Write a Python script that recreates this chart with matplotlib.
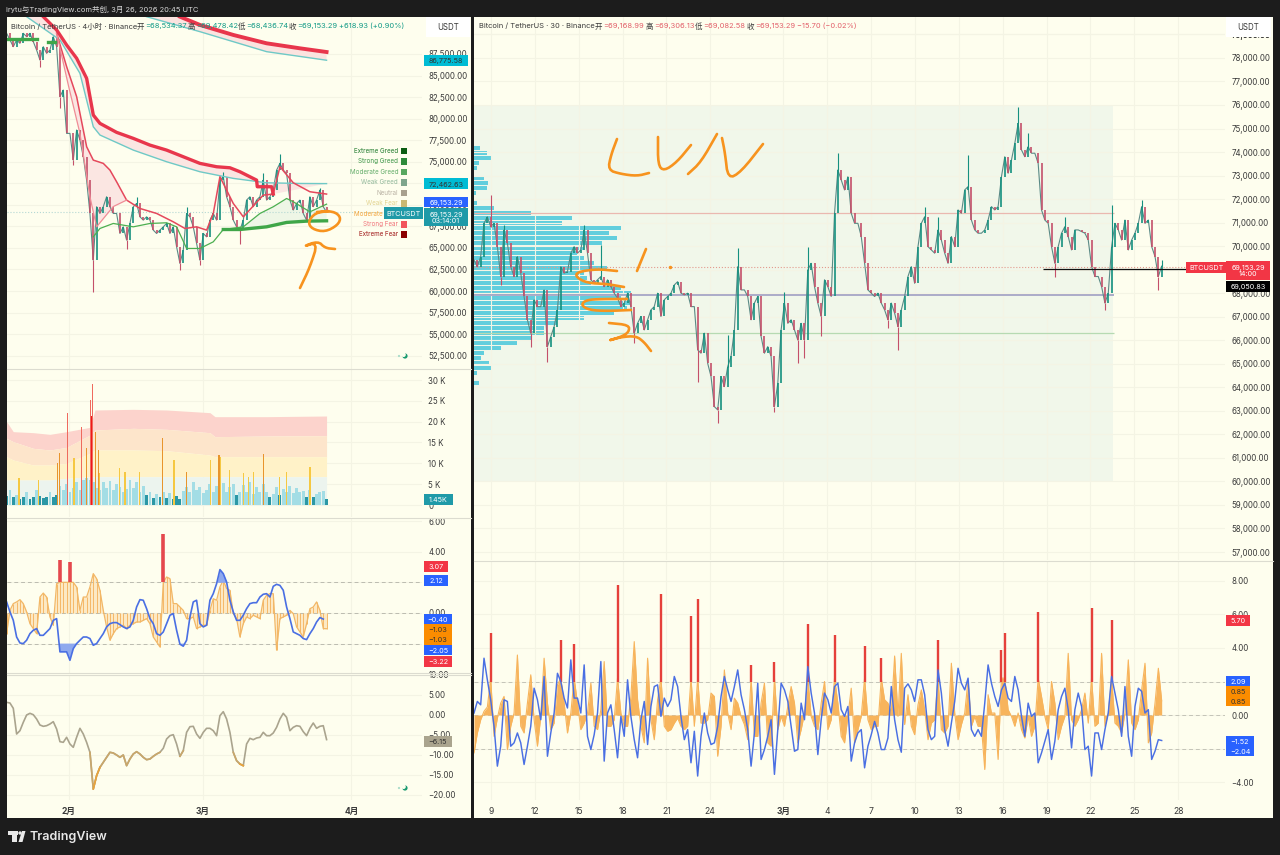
# -*- coding: utf-8 -*-
import numpy as np
import matplotlib
matplotlib.use("Agg")
from matplotlib import pyplot as plt
from matplotlib.patches import Rectangle, Polygon, Circle
from matplotlib.ticker import FuncFormatter

W, H = 1280, 855
plt.rcParams['font.family'] = ['Inter', 'Noto Sans CJK SC', 'DejaVu Sans']

# x values are days since 1 Feb
LEFT_T0, LEFT_STEP = -13.03, 0.6964
RIGHT_T0, RIGHT_STEP = 6.84, 0.2283

# left: 4h price
left_close = [89900, 89130, 88350, 89130, 88740, 89900, 89510, 89900, 88930, 87960, 86800, 88350, 87580, 87960, 89510, 88350,
    82550, 83320, 78290, 78290, 75190, 78680, 77520, 75580, 72870, 69000, 63580, 69780, 69000, 69780, 70940, 69780, 69000, 69000,
    66680, 67450, 65910, 67840, 69780, 70160, 68610, 68230, 68610, 68230, 67070, 66680, 67070, 67450, 67840, 66680, 67450, 65130,
    63200, 64740, 69000, 68610, 67450, 65520, 63580, 66680, 66290, 68230, 69000, 68230, 72870, 73260, 70940, 69780, 68230, 67450,
    67070, 68230, 70550, 70940, 69780, 70550, 70940, 72870, 70550, 70940, 71710, 74030, 74810, 74030, 73640, 70550, 69390, 70160,
    70550, 69000, 68230, 70940, 69780, 70550, 71710, 69780, 69153]
left_wick_idx = [10, 16, 20, 26, 36, 39, 52, 54, 58, 65, 70, 77, 82, 94]
left_wick_val = [86030, 81190, 74610, 59900, 64900, 70940, 62400, 69780, 63000, 73840, 65500, 73640, 75900, 71900]

slow_red_days = [23.19, 27.36, 34.33, 41.29, 48.25, 53.82]
slow_red = [91830, 90870, 89710, 88740, 88160, 87730]
slow_cyan_days = [16.2, 27.36, 41.29, 53.82]
slow_cyan = [91830, 90090, 87770, 86776]
mid_red_days = [-5.37, -2.58, -0.49, 1.6, 3.69, 5.08, 6.47, 9.95, 13.44, 16.92, 20.4, 23.88, 27.36, 30.85, 33.63, 35.72, 39.2, 39.34, 42.34, 42.69]
mid_red = [91830, 90290, 88540, 87000, 84670, 80420, 79450, 78410, 77710, 76930, 76350, 75580, 74810, 74420, 74300, 73840, 72870, 72100, 72100, 71250]
mid_cyan_days = [-8.85, -1.88, 2.29, 5.08, 6.47, 13.44, 20.4, 27.36, 34.33, 41.29, 48.25, 53.82]
mid_cyan = [91830, 89130, 85260, 79060, 78100, 76350, 75000, 73840, 73070, 72560, 72480, 72463]
thin_red_days = [-2.58, -0.49, 1.6, 3.69, 5.08, 7.17, 8.56, 9.95, 12.04, 14.83, 18.32, 21.79, 24.23, 26.67, 28.76, 30.15, 31.54, 34.33, 36.42, 40.59, 42.69, 44.08, 46.86, 50.34, 53.82]
thin_red = [89900, 86030, 82550, 76740, 75190, 74810, 74030, 72680, 70550, 69580, 69000, 68030, 67260, 67450, 67070, 69000, 73260, 70160, 68610, 71130, 71250, 74420, 72560, 71520, 71250]
fast_pink_days = [-2.58, -0.14, 2.29, 4.38, 5.77, 9.25, 12.04]
fast_pink = [89900, 83900, 78290, 70940, 67450, 69800, 70550]
thin_green_days = [5.08, 6.47, 9.25, 13.44, 16.92, 20.4, 22.49, 24.58, 27.36, 30.15, 32.24, 36.42, 39.9, 42.69, 45.47, 46.86, 50.34, 53.82]
thin_green = [66290, 67260, 67840, 67450, 67840, 67920, 67450, 64940, 64940, 65710, 67140, 67450, 69000, 69780, 70740, 70360, 69190, 70080]
thick_green_days = [32.24, 35.72, 41.29, 45.47, 49.65, 53.82]
thick_green = [67140, 67140, 67450, 67960, 68110, 68150]
top_green_a_days = [-13.03, -6.76]
top_green_a = [89240, 89240]
top_green_b_days = [-4.3, -2.93]
top_green_b = [88900, 88900]

# left: volume (K)
band_days = [-13.03, -11.64, -7.46, -3.98, -0.49, 4.38, 5.43, 13.44, 20.4, 29.45, 30.5, 41.29, 53.82]
band_red_top = [20.0, 17.6, 17.36, 16.96, 17.6, 18.64, 22.8, 22.96, 22.8, 22.16, 21.2, 21.2, 21.36]
band_orange_top = [16.0, 15.2, 13.6, 13.2, 13.84, 16.8, 18.0, 18.4, 18.16, 17.36, 16.4, 16.56, 16.64]
band_yellow_top = [11.6, 10.8, 9.6, 9.6, 10.0, 12.4, 13.2, 13.2, 13.04, 12.0, 11.6, 11.6, 11.6]
band_pale_top = [6.0, 6.0, 6.0, 6.0, 6.4, 6.8, 6.8, 6.8, 6.8, 6.8, 6.8, 6.8, 6.8]
volume = [2.2, 3.5, 1.8, 2.5, 1.5, 2.0, 3.0, 1.4, 2.0, 3.5, 2.2, 1.6, 1.8, 3.0, 2.0, 2.4,
    4.5, 3.5, 5.0, 3.0, 4.0, 5.5, 3.5, 6.0, 6.5, 6.0, 5.5, 4.0,
    3.5, 5.5, 4.0, 5.8, 3.5, 5.0, 4.2, 3.0, 3.8, 6.0, 4.0, 5.5, 3.0, 4.6, 2.4, 3.2, 1.6, 2.6, 1.8, 3.0, 1.6, 2.8, 1.5, 2.2, 1.4,
    3.4, 4.2, 3.0, 5.5, 3.5, 4.2, 2.8, 3.6, 5.0, 3.0, 4.6, 3.4, 5.2, 3.0, 4.2, 5.0, 2.4, 3.0, 4.8, 3.0, 5.4, 2.6, 4.4, 3.0, 5.0,
    3.0, 2.0, 2.6, 4.4, 2.4, 3.8, 3.0, 4.6, 2.8, 4.0, 3.0, 3.4, 2.0, 3.6, 1.8, 2.6, 3.2, 3.4, 1.45]
yellow_spike_days = [-10.45, -6.41, 1.04, 6.33, 10.51, 11.69, 14.69, 21.93, 29.59, 31.68, 33.49, 36.41, 37.46, 38.5, 43.94, 45.47, 50.34]
yellow_spikes = [6.4, 6.0, 11.2, 7.6, 8.8, 8.0, 8.0, 10.8, 10.8, 11.6, 8.4, 7.6, 6.8, 8.0, 6.8, 8.0, 9.2]
orange_spike_days = [-2.44, -2.02, 3.69, 5.57, 6.12, 19.56, 24.58, 31.33, 40.59]
orange_spikes = [10.0, 12.4, 13.6, 17.4, 13.2, 16.0, 8.0, 12.0, 12.2]
red_spike_days = [-0.28, 2.57, 4.52, 4.94, 4.73]
red_spikes = [22.0, 18.6, 25.2, 29.0, 21.4]

# left: oscillator
left_hist = [-1.35, 0.17, 0.61, 0.72, 0.87, 0.61, 0.07, -0.7, -1.02, -1.35, 1.04, 1.3, 1.04, -0.26, -0.8, 1.91, 3.43, 2.0, 2.0, 3.33,
    2.0, 1.7, 0.17, 1.04, 1.04, 1.7, 2.57, 2.24, 1.48, 0.17, -0.91, -1.78, -1.35, -1.02, -0.91, -0.8, -1.02, -0.8, -0.7, -0.59, -0.59,
    -0.48, -0.37, -0.7, -1.57, -1.89, -2.22, 5.17, 2.35, 2.24, 0.61, 0.61, 0.39, 0.17, -0.37, -0.37, -0.26, -1.02, -0.91, -0.8, -0.8,
    0.17, 0.93, 0.83, 1.7, 2.13, 1.59, 1.48, -0.04, -0.37, -1.57, -0.7, -0.26, -0.37, -0.15, -0.26, -0.37, 0.83, 1.15, 1.26, 1.26,
    -2.43, -0.37, -0.26, -0.15, 0.17, -0.04, -0.91, -1.24, -1.57, -0.7, 0.28, 0.39, 0.72, 0.17, -1.02, -1.03]
left_blue = [0.72, 0.07, -0.48, -1.57, -1.96, -2.0, -1.78, -1.35, -1.13, -1.02, -1.46, -1.46, -1.24, -1.02, -0.48, -0.37, -2.54, -2.54,
    -2.54, -3.09, -2.33, -2.0, -1.78, -1.57, -1.57, -1.67, -2.11, -2.0, -1.67, -1.35, -0.91, -0.7, -0.63, -0.63, -0.76, -0.91, -1.02,
    -0.91, -0.48, 0.39, 0.87, 0.83, 0.28, -0.37, -0.7, -1.35, -1.46, -1.24, -0.7, -0.15, -0.04, -1.13, -2.04, -2.17, -1.78, -0.26, 0.72,
    0.83, -0.7, -0.91, -0.8, 0.83, 1.26, 1.91, 2.83, 2.57, 2.02, 0.83, 0.07, -0.48, -0.48, -0.15, 0.28, 0.61, 0.67, 0.67, 1.04, 1.22,
    1.26, 1.04, 1.74, 1.87, 1.8, 1.48, 0.39, -0.37, -1.24, -1.35, -1.46, -1.67, -1.74, -1.35, -1.02, -0.59, -0.3, -0.4]

# left: bottom line
left_line = [3.17, 3.0, 1.67, -4.75, -3.92, -1.83, 0, 0.42, 0.08, -1, -2.5, -2.83, -2.67, -2.25, -1.67, -3.5, -6.67, -6.83, -5.58, -7.25,
    -8.08, -5.58, -3.33, -4.75, -6.83, -9.33, -18.5, -15.17, -13.08, -11.83, -10.58, -9.33, -9.5, -10, -10.58, -10, -12.67, -11, -9.75,
    -9.17, -9.75, -10.58, -11.17, -11, -10.33, -9.75, -9.33, -8.33, -6, -5.17, -4.92, -7.25, -10.33, -8.92, -4.33, -2.92, -2.83, -4.75,
    -5.83, -4.33, -3.33, -3.33, -3.92, -5.17, -0.17, 0.83, -1, -4.33, -9.33, -11.42, -12.25, -12.67, -7.25, -5.83, -6.17, -5.75, -5.58,
    -4.33, -5.17, -5.17, -4.5, -3.08, -1, 0.42, -0.58, -3.92, -3.08, -2.67, -2.83, -4.17, -5.17, -3.33, -2, -3.33, -2.83, -2.67, -6.15]

# right: 30m price
right_close = [69410, 69130, 69560, 70970, 71250, 70830, 70970, 69980, 68710, 70690, 70120, 69130, 68710, 69560, 68850, 67860, 66870, 66300,
    67720, 67430, 67430, 68140, 65730, 66150, 66580, 67290, 69130, 68850, 68920, 69700, 69980, 69700, 69840, 70690, 69700, 68570, 68420,
    68570, 68710, 68280, 68570, 68280, 68000, 67790, 67430, 67580, 68000, 67430, 66300, 66720, 67010, 66440, 66870, 67290, 67430, 68000,
    67010, 67720, 67860, 68000, 68350, 68490, 68000, 67930, 68000, 67430, 67430, 65590, 65450, 66300, 65020, 64460, 63180, 63040, 64460,
    64030, 64880, 65310, 66440, 69130, 68140, 68140, 67860, 66870, 67580, 67860, 66160, 65450, 65730, 65310, 63180, 64170, 66440, 67580,
    66720, 66870, 66440, 66010, 66720, 66010, 68990, 69270, 68280, 67580, 67010, 68570, 68280, 67860, 71400, 73240, 72810, 72390, 72950,
    71400, 70970, 70970, 70410, 69270, 68140, 68000, 67860,
    68000, 67580, 67290, 66870, 67580, 67150, 66580, 67290, 67860, 68710, 69130, 68420, 69980, 70970, 71250, 69980, 69840, 69700, 70690,
    70260, 69700, 69270, 70410, 69980, 71540, 71400, 72390, 72530, 71110, 70690, 70550, 70550, 70690, 71110, 71680, 71540, 71680, 72950,
    73800, 73100, 73660, 74370, 75220, 74090, 73800, 74230, 73950, 73950, 73520, 71540, 71110, 70970, 69980, 69270, 69980, 70550, 70830,
    70410, 69840, 70690, 70690, 70620, 70550, 70260, 69130, 68710, 68710, 68280, 67580, 68000, 69980, 70970, 70690, 70260, 71110, 69840,
    70260, 70550, 70970, 71680, 70970, 71110, 69980, 69560, 68710, 69153]
right_wick_idx = [5, 8, 9, 17, 22, 33, 38, 48, 67, 73, 76, 79, 90, 93, 97, 99, 100, 104, 109,
    124, 127, 135, 139, 148, 163, 166, 177, 174, 189, 191, 200, 205, 206]
right_wick_val = [72180, 68350, 70900, 65730, 65090, 70900, 70050, 65870, 64240, 62470, 66230, 69910, 62970, 68070, 65020, 65240, 69980, 66160, 73950,
    66510, 65590, 71680, 71250, 73880, 75930, 74800, 71250, 68710, 67290, 71750, 71960, 68140, 69410]

profile_top, profile_step = 74159, 212.4
profile_volume = [6, 13, 18, 5, 3, 0, 10, 14, 13, 2, 0, 3, 20, 57, 98, 88, 147, 135, 143, 128, 110, 103, 110, 120, 133, 110, 113, 117,
    147, 157, 147, 157, 153, 140, 110, 83, 70, 70, 57, 43, 27, 10, 7, 15, 17, 3, 0, 5]

# right: oscillator
right_hist = [-2.26, -1.07, -0.28, 0.22, 0.48, 4.87, -1.27, -0.18, 0.71, 1.11, -2.06, -0.67, 0.12, 3.58, -0.67, -1.07, 0.71, 2.4, -0.28, -1.86,
    -0.08, 3.39, 0.71, -0.87, -0.48, 1.8, 4.47, 0.71, -1.07, 0.12, 4.24, 0.71, -0.87, -0.48, 0.12, 1.9, -0.67, -0.87, 0.32, 3.19, -0.67,
    -0.67, -0.28, 7.74, 0.12, -0.67, -0.67, 1.11, 4.38, 0.91, -0.67, -1.66, 3.39, -0.28, -1.47, 0.91, 7.25, -0.67, -0.97, -0.87, -0.48,
    -0.18, -0.67, -0.87, -0.67, 5.9, -0.67, 6.95, -0.48, -0.48, -0.28, 1.31, 1.11, -2.46, -0.67, 2.69, 0.12, -0.87, 1.01, 0.71, -0.08,
    -0.57, -1.47, 2.99, -1.27, -1.27, 0.71, 1.9, -1.66, -1.86, 3.19, -0.87, -0.08, -0.67, 0.51, 1.7, 0.71, -1.66, -0.87, 0.12, 5.46,
    -0.08, -0.67, -0.87, 0.71, 2.0, -0.87, -0.28, 4.77, 0.71, -1.27, -1.66, -0.08, 1.6, -1.66, -0.87, -0.08, 4.12, -0.28, -0.87, -0.67,
    -0.67, 3.39, 0.91, 0.71, 0.12, 3.52, -0.08, 3.68, -0.57, 1.21, -0.67, -1.17, 0.61, 1.5, 0.32, -1.47, -0.48, -0.28, 4.47, -0.87, -1.07,
    -0.67, 3.09, 0.12, -1.47, -0.57, 0.12, 2.1, -0.67, -0.08, -0.67, -0.67, -3.25, 1.21, 0.12, 0.12, -2.65, 3.88, 4.87, 0.32, -0.08, -0.67,
    0.12, -0.87, -1.37, -0.08, -1.27, -0.67, 6.16, 1.11, -0.08, -0.87, 2.0, 0.71, -1.47, -0.67, -0.08, 3.68, -0.28, -0.67, -0.28, 0.32,
    1.31, -0.48, 6.36, -0.67, -0.48, 3.68, -0.67, 0.12, 5.66, -0.48, -0.67, -1.07, 0.12, 3.29, -0.48, -0.87, -0.28, 1.5, 3.09, -1.66, -1.07,
    0.71, 2.79, 0.85]
right_hist_red_idx = [5, 26, 30, 43, 56, 65, 67, 83, 90, 100, 108, 117, 122, 139, 158, 159, 169, 185, 191]
right_blue = [0.12, 0.81, 0.61, 3.39, 2.1, 0.91, -0.67, -3.05, -1.86, 0.91, 0.81, -1.86, -1.66, -1.07, -1.66, -2.95, -1.86, -0.67, 1.6, 0.91,
    -0.28, 2.3, -2.46, -1.07, 0.12, 2.49, 2.0, 1.01, 0.42, 3.29, 1.01, 1.01, 0.12, 2.99, -1.27, -2.06, -1.17, 0.12, 3.19, -2.75, 0.12, 0.61,
    -0.87, -2.55, -0.08, -1.27, 2.1, -0.08, -1.47, -2.55, -0.28, 0.81, -1.76, 0.51, 1.7, 1.8, -0.08, 1.01, 0.51, 0.91, 2.3, 1.7, -0.08,
    -1.47, -0.87, -2.85, -0.97, -3.64, -1.27, 0.12, -1.07, -1.76, -1.66, -0.67, 1.11, 2.3, 1.5, 0.81, 1.7, 2.69, 1.21, 0.32, -0.87, -3.05,
    -1.07, 1.9, -2.65, -2.06, -1.27, -0.28, -3.54, -0.87, 1.9, 1.5, 0.81, -0.67, -2.16, -2.06, 0.71, -0.28, 2.89, 1.31, 0.12, -2.36, -0.28,
    1.31, 0.91, 0.12, 1.7, 1.9, 0.32, -0.08, 0.51, -2.75, -1.66, -1.07, -0.87, -3.15, -1.86, -1.17, -0.38,
    -1.07, -2.06, -2.06, -1.37, 1.7, -0.28, -1.47, -2.22, 1.6, 1.86, 1.5, 0.81, 2.1, 2.1, 1.21, -0.87, -1.47, -1.27, 2.69, 1.31, -0.87, -1.86,
    -0.48, 0.81, 2.79, 1.9, 1.5, 2.2, -0.87, -1.27, -0.87, -1.27, 0.71, 2.99, 1.9, 1.11, 0.51, 1.5, 1.9, 1.01, 0.81, 2.3, 1.5, -0.08, -1.27,
    0.71, -0.08, 0.12, -2.85, -2.26, -1.56, -0.87, -2.65, -1.56, 0.32, 1.11, 1.6, 0.32, -1.96, 0.32, 1.31, 0.51, -2.06, -1.86, -3.64, -1.07,
    -1.07, -2.06, -0.87, 0.12, 2.3, 1.31, 0.32, -1.27, 1.7, -1.27, -2.46, 0.51, 1.6, 1.41, 0.12, 0.32, -2.65, -2.16, -1.47, -1.52]

# ticks
left_price_ticks = [52500 + 2500 * i for i in range(15)]
right_price_ticks = [57000 + 1000 * i for i in range(23)]
vol_ticks = [0, 5, 10, 15, 20, 25, 30]
left_osc_ticks = [6, 4, 2, 0, -2]
left_line_ticks = [10, 5, 0, -5, -10, -15, -20]
right_osc_ticks = [8, 6, 4, 2, 0, -2, -4]
left_x_ticks = [0, 28, 59]
left_x_labels = ['2月', '3月', '4月']
right_x_ticks = [8, 11, 14, 17, 20, 23, 28, 31, 34, 37, 40, 43, 46, 49, 52, 55]
right_x_labels = ['9', '12', '15', '18', '21', '24', '3月', '4', '7', '10', '13', '16', '19', '22', '25', '28']

legend_names = ['Extreme Greed', 'Strong Greed', 'Moderate Greed', 'Weak Greed', 'Neutral', 'Weak Fear', 'Moderate Fear', 'Strong Fear', 'Extreme Fear']
legend_text_colors = ['#1f7a2c', '#3c9647', '#64ad6a', '#93b99c', '#b9b2a4', '#e2d38f', '#f5a53c', '#f0737a', '#a01818']
legend_box_colors = ['#0b5d12', '#2e8b3a', '#58a860', '#7ea58c', '#a8a08e', '#c9b873', '#f59a23', '#f2545b', '#8b0000']

BG = '#1c1c1c'
PANEL = '#fefeee'
GRID = '#f4f4e4'
SEP = '#dcdcd0'
TEXT = '#3a3a3a'
UP = '#15907f'
DOWN = '#c4506a'
BLUE = '#2962ff'
ORANGE = '#fb8c00'
RED = '#f23645'
TEAL = '#1f9aa8'
CYAN = '#00bcd4'
INK = '#f7931e'
TICK_SIZE = 5.7
TAG_SIZE = 5.2
TITLE_SIZE = 5.4


def make_axes(x0, x1, y0, y1):
    a = fig.add_axes([x0 / W, 1 - y1 / H, (x1 - x0) / W, (y1 - y0) / H])
    a.patch.set_visible(False)
    for s in a.spines.values():
        s.set_visible(False)
    a.yaxis.tick_right()
    a.tick_params(axis='y', length=0, labelsize=TICK_SIZE, labelcolor=TEXT, pad=4.5)
    a.tick_params(axis='x', length=0, labelsize=6.2, labelcolor=TEXT, pad=5)
    a.set_axisbelow(True)
    a.grid(True, color=GRID, lw=0.8)
    return a


def fmt(v, p):
    return ("%.2f" % v).replace('-', '\u2212')


def fmt_price(v, p):
    return "{:,.2f}".format(v)


def draw_candles(a, days, close, wick_idx, wick_val, lw, wick_lw):
    a.plot(days, close, color='#5a8a86', lw=0.8, zorder=3)
    for i in range(1, len(close)):
        col = UP if close[i] >= close[i - 1] else DOWN
        a.vlines(days[i], close[i - 1], close[i], color=col, lw=lw, zorder=4)
    for i, v in zip(wick_idx, wick_val):
        col = UP if close[i] >= close[i - 1] else DOWN
        a.vlines(days[i], close[i], v, color=col, lw=wick_lw, zorder=4)


def smooth_stroke(points):
    # corner cutting so the ink looks hand drawn
    pts = np.array(points, dtype=float)
    for _ in range(2):
        q = pts[:-1] * 0.75 + pts[1:] * 0.25
        r = pts[:-1] * 0.25 + pts[1:] * 0.75
        mid = np.empty((len(q) * 2, 2))
        mid[0::2] = q
        mid[1::2] = r
        pts = np.vstack([pts[:1], mid, pts[-1:]])
    return pts


fig = plt.figure(figsize=(W / 100, H / 100), dpi=100, facecolor=BG)
fig.patches.append(Rectangle((7 / W, 1 - 818 / H), 464 / W, 801 / H, transform=fig.transFigure, fc=PANEL, ec='none', zorder=-5))
fig.patches.append(Rectangle((474 / W, 1 - 818 / H), 799 / W, 801 / H, transform=fig.transFigure, fc=PANEL, ec='none', zorder=-5))

left_xlim = (-12.95, 73.76)
right_xlim = (6.84, 58.2)
left_days = LEFT_T0 + LEFT_STEP * np.arange(len(left_close))
right_days = RIGHT_T0 + RIGHT_STEP * np.arange(len(right_close))

# left price pane
ax1 = make_axes(7, 422, 17, 369)
ax1.set_xlim(left_xlim)
ax1.set_ylim(50957, 91792)
ax1.set_yticks(left_price_ticks)
ax1.yaxis.set_major_formatter(FuncFormatter(fmt_price))
ax1.set_xticks(left_x_ticks)
ax1.tick_params(axis='x', labelbottom=False)
ax1.fill(slow_red_days + slow_cyan_days[::-1], slow_red + slow_cyan[::-1], color='#fbe3df', lw=0, zorder=1)
ax1.fill(mid_red_days + mid_cyan_days[::-1], mid_red + mid_cyan[::-1], color='#fbe6e2', lw=0, zorder=1)
ax1.fill(thin_red_days[:9] + fast_pink_days[::-1], thin_red[:9] + fast_pink[::-1], color='#fbe6e2', lw=0, zorder=1)
ax1.fill(thin_green_days[10:] + thick_green_days[::-1], thin_green[10:] + thick_green[::-1], color='#eef6e6', lw=0, zorder=1)
ax1.axhline(69153, color='#b5d8d4', lw=0.8, ls=':', zorder=2)
draw_candles(ax1, left_days, left_close, left_wick_idx, left_wick_val, 1.2, 0.8)
ax1.plot(slow_cyan_days, slow_cyan, color='#6fc9c6', lw=1.0, zorder=5)
ax1.plot(mid_cyan_days, mid_cyan, color='#6fc9c6', lw=1.0, zorder=5)
ax1.plot(slow_red_days, slow_red, color='#e8364c', lw=2.8, zorder=6)
ax1.plot(mid_red_days, mid_red, color='#e8364c', lw=2.4, zorder=6)
ax1.plot(thin_red_days, thin_red, color='#e5485c', lw=1.1, zorder=5)
ax1.plot(fast_pink_days, fast_pink, color='#ef8c96', lw=0.9, zorder=5)
ax1.plot(thin_green_days, thin_green, color='#4caf50', lw=0.9, zorder=5)
ax1.plot(thick_green_days, thick_green, color='#3fa648', lw=2.4, zorder=6)
ax1.plot(top_green_a_days, top_green_a, color='#3fa648', lw=2.4, zorder=6)
ax1.plot(top_green_b_days, top_green_b, color='#3fa648', lw=2.4, zorder=6)

# left volume pane
ax2 = make_axes(7, 422, 370, 517)
ax2.set_xlim(left_xlim)
ax2.set_ylim(-2.88, 32.4)
ax2.set_yticks(vol_ticks)
ax2.set_yticklabels(['0' if v == 0 else "%d K" % v for v in vol_ticks])
ax2.set_xticks(left_x_ticks)
ax2.tick_params(axis='x', labelbottom=False)
ax2.fill_between(band_days, band_orange_top, band_red_top, color='#fcd3cc', lw=0, zorder=1)
ax2.fill_between(band_days, band_yellow_top, band_orange_top, color='#fde5cb', lw=0, zorder=1)
ax2.fill_between(band_days, band_pale_top, band_yellow_top, color='#fff2c8', lw=0, zorder=1)
ax2.fill_between(band_days, 0, band_pale_top, color='#ecf4ee', lw=0, zorder=1)
vol_days = LEFT_T0 + LEFT_STEP * np.arange(len(volume))
vol_colors = ['#2b97a5' if v < 2.5 else '#a3dde5' for v in volume]
ax2.bar(vol_days, volume, width=0.6, color=vol_colors, lw=0, zorder=2)
ax2.bar(yellow_spike_days, yellow_spikes, width=0.3, color='#f5c842', lw=0, zorder=3)
ax2.bar(orange_spike_days, orange_spikes, width=0.3, color='#e8952c', lw=0, zorder=3)
ax2.bar(red_spike_days, red_spikes, width=0.3, color='#ef6a5e', lw=0, zorder=4)
ax2.bar(red_spike_days[-1:], red_spikes[-1:], width=0.3, color='#f01818', lw=0, zorder=5)

# left oscillator pane
ax3 = make_axes(7, 422, 518, 673)
ax3.set_xlim(left_xlim)
ax3.set_ylim(-3.92, 6.2)
ax3.set_yticks(left_osc_ticks)
ax3.yaxis.set_major_formatter(FuncFormatter(fmt))
ax3.set_xticks(left_x_ticks)
ax3.tick_params(axis='x', labelbottom=False)
osc_days = LEFT_T0 + LEFT_STEP * np.arange(len(left_hist))
left_hist = np.array(left_hist)
left_blue = np.array(left_blue)
blue_days = LEFT_T0 + LEFT_STEP * np.arange(len(left_blue))
left_body = np.where(left_hist > 3, 2.0, left_hist)
ax3.fill_between(osc_days, 0, left_body, color='#fbd9a2', alpha=0.55, lw=0, zorder=2)
ax3.vlines(osc_days, 0, left_body, color='#f5b868', lw=0.7, zorder=3)
ax3.plot(osc_days, left_body, color='#f2b766', lw=0.9, zorder=3)
peaks = left_hist > 3
ax3.vlines(osc_days[peaks], 2, left_hist[peaks], color='#e5484d', lw=2.6, zorder=4)
ax3.fill_between(blue_days, 2, left_blue, where=left_blue > 2, color='#8fa9ee', lw=0, interpolate=True, zorder=4)
ax3.fill_between(blue_days, -2, left_blue, where=left_blue < -2, color='#8fa9ee', lw=0, interpolate=True, zorder=4)
ax3.plot(blue_days, left_blue, color='#4a6fe3', lw=1.2, zorder=5)
for v in [2, 0, -2]:
    ax3.axhline(v, color='#bcbcb0', lw=0.7, ls=(0, (4, 3)), zorder=2)

# left bottom line pane
ax4 = make_axes(7, 422, 675, 800)
ax4.set_xlim(left_xlim)
ax4.set_ylim(-21.25, 10)
ax4.set_yticks(left_line_ticks)
ax4.yaxis.set_major_formatter(FuncFormatter(fmt))
ax4.set_xticks(left_x_ticks)
ax4.set_xticklabels(left_x_labels, fontweight='bold')
line_days = LEFT_T0 + LEFT_STEP * np.arange(len(left_line))
left_line = np.array(left_line)
ax4.plot(line_days, left_line, color='#aaa48e', lw=1.2, zorder=4)
ax4.plot(line_days, np.where(left_line < -8.5, left_line, np.nan), color='#c9a76a', lw=1.2, zorder=5)
ax4.plot(line_days, np.where(left_line < -12, left_line, np.nan), color='#e8a33c', lw=1.2, zorder=6)

# right price pane
ax5 = make_axes(474, 1225, 17, 560)
ax5.set_xlim(right_xlim)
ax5.set_ylim(56660, 79740)
ax5.set_yticks(right_price_ticks + [79000])
ax5.yaxis.set_major_formatter(FuncFormatter(fmt_price))
ax5.set_xticks(right_x_ticks)
ax5.tick_params(axis='x', labelbottom=False)
ax5.set_zorder(3)
ax5.hlines(71425, right_xlim[0], 50.6, color='#eab8b0', lw=0.9, zorder=2)
ax5.hlines(67930, right_xlim[0], 50.6, color='#a6a6c6', lw=1.3, zorder=2)
ax5.hlines(66300, right_xlim[0], 50.6, color='#b6dab2', lw=0.9, zorder=2)
ax5.axhline(69100, color='#e39a8e', lw=0.8, ls=':', zorder=2)
draw_candles(ax5, right_days, right_close, right_wick_idx, right_wick_val, 1.2, 0.8)
ax5.hlines(69050, 45.74, 55.6, color='#111111', lw=0.9, zorder=6)

ax_vp = ax5.twiny()
ax_vp.set_zorder(2)
ax_vp.patch.set_visible(False)
ax_vp.set_xlim(0, 751)
ax_vp.axis('off')
ax_vp.add_patch(Rectangle((0, 60000), 639, 16000, fc='#f1f7ea', ec='none', zorder=0))
profile_levels = profile_top - profile_step * np.arange(len(profile_volume))
ax_vp.barh(profile_levels, profile_volume, height=185, color='#62cedd', lw=0, zorder=1)

# right oscillator pane
ax6 = make_axes(474, 1225, 561, 800)
ax6.set_xlim(right_xlim)
ax6.set_ylim(-5.07, 9.19)
ax6.set_yticks(right_osc_ticks)
ax6.yaxis.set_major_formatter(FuncFormatter(fmt))
ax6.set_xticks(right_x_ticks)
ax6.set_xticklabels(right_x_labels)
for lab in ax6.get_xticklabels():
    if '月' in lab.get_text():
        lab.set_fontweight('bold')
hist_days = RIGHT_T0 + RIGHT_STEP * np.arange(len(right_hist))
right_hist = np.array(right_hist)
hist_body = right_hist.copy()
hist_body[right_hist_red_idx] = np.minimum(hist_body[right_hist_red_idx], 2.2)
ax6.fill_between(hist_days, 0, hist_body, color='#f7b45c', lw=0, zorder=3)
ax6.plot(hist_days, hist_body, color='#f7b45c', lw=0.8, zorder=3)
ax6.vlines(hist_days[right_hist_red_idx], 2, right_hist[right_hist_red_idx], color='#e5403a', lw=1.7, zorder=4)
blue_days2 = RIGHT_T0 + RIGHT_STEP * np.arange(len(right_blue))
ax6.plot(blue_days2, right_blue, color='#4a6fe3', lw=1.05, zorder=5)
for v in [2, 0, -2]:
    ax6.axhline(v, color='#c4c4b8', lw=0.7, ls=(0, (4, 3)), zorder=2)

# pixel overlay for labels, tags and hand-drawn ink
ov = fig.add_axes([0, 0, 1, 1], zorder=10)
ov.set_xlim(0, W)
ov.set_ylim(H, 0)
ov.axis('off')
ov.patch.set_visible(False)


def tag(x0, x1, yc, h, text, bg, fg='white', size=TAG_SIZE):
    ov.add_patch(Rectangle((x0, yc - h / 2), x1 - x0, h, fc=bg, ec='none', zorder=3))
    ov.text((x0 + x1) / 2, yc, text, color=fg, fontsize=size, ha='center', va='center_baseline', linespacing=1.0, zorder=4)


# pane separators
for y, x0, x1 in [(369.5, 7, 471), (517.5, 7, 471), (673, 7, 471), (675, 7, 471), (560.5, 474, 1273)]:
    ov.plot([x0, x1], [y, y], color=SEP, lw=0.8, zorder=1)

# header and footer
ov.text(6, 9, 'irytu与TradingView.com共创, 3月 26, 2026 20:45 UTC', color='#d8d8d8', fontsize=5.4, va='center')
ov.add_patch(Rectangle((8, 831), 10, 3.5, fc='#e8e8e8', ec='none'))
ov.add_patch(Rectangle((12, 831), 4.5, 11, fc='#e8e8e8', ec='none'))
ov.add_patch(Circle((20, 833), 1.7, fc='#e8e8e8', ec='none'))
ov.add_patch(Polygon([[18.5, 842], [22, 831], [25.5, 831], [22.5, 842]], fc='#e8e8e8', ec='none'))
ov.text(30, 837, 'TradingView', color='#e8e8e8', fontsize=9, fontweight='semibold', va='center')

# chart titles
UP_TXT = '#129a86'
DN_TXT = '#e2606a'
ov.text(11, 26, 'Bitcoin / TetherUS · 4小时 · Binance', color=TEXT, fontsize=TITLE_SIZE, va='center', zorder=5)
for x, s, c in [(137, '开', TEXT), (145, '=68,534.37', UP_TXT), (188, '高', TEXT), (196, '=69,478.42', UP_TXT), (238, '低', TEXT),
                (246, '=68,436.74', UP_TXT), (289, '收', TEXT), (297, '=69,153.29', UP_TXT), (339, '+618.93 (+0.90%)', UP_TXT)]:
    ov.text(x, 26, s, color=c, fontsize=TITLE_SIZE, va='center', zorder=5)
ov.text(479, 26, 'Bitcoin / TetherUS · 30 · Binance', color=TEXT, fontsize=TITLE_SIZE, va='center', zorder=5)
for x, s, c in [(595, '开', TEXT), (603, '=69,168.99', DN_TXT), (646, '高', TEXT), (654, '=69,306.13', DN_TXT), (695, '低', TEXT),
                (703, '=69,082.58', DN_TXT), (747, '收', TEXT), (755, '=69,153.29', DN_TXT), (797, '\u221215.70 (\u22120.02%)', DN_TXT)]:
    ov.text(x, 26, s, color=c, fontsize=TITLE_SIZE, va='center', zorder=5)

tag(426, 470, 27, 20, 'USDT', 'white', TEXT, TICK_SIZE)
tag(1226, 1271, 27, 20, 'USDT', 'white', TEXT, TICK_SIZE)

# left legend
legend_ys = [151, 161.5, 172, 182.5, 193, 203, 213.5, 224, 234]
for name, y, tc, bc in zip(legend_names, legend_ys, legend_text_colors, legend_box_colors):
    ov.text(398, y, name, color=tc, fontsize=4.5, ha='right', va='center', zorder=1)
    ov.add_patch(Rectangle((400.5, y - 3), 6.5, 6.5, fc=bc, ec='none', zorder=1))

# left tags
tag(424, 468, 61, 11, '86,775.58', CYAN, '#333333')
tag(424, 468, 184, 11, '72,462.63', CYAN, '#333333')
tag(424, 468, 202, 10, '69,153.29', BLUE)
tag(384, 423, 213, 12, 'BTCUSDT', TEAL)
tag(424, 468, 217, 18, '69,153.29\n03:14:01', TEAL)
tag(424, 453, 499, 11, '1.45K', TEAL)
tag(424, 448, 566, 11, '3.07', RED)
tag(424, 448, 580.5, 11, '2.12', BLUE)
tag(424, 452, 619, 10.5, '\u22120.40', BLUE)
tag(424, 452, 629, 10.5, '\u22121.03', ORANGE, '#333333')
tag(424, 452, 639.5, 10.5, '\u22121.03', ORANGE, '#333333')
tag(424, 452, 650, 10.5, '\u22122.05', BLUE)
tag(424, 452, 661.5, 10.5, '\u22123.22', RED)
tag(424, 452, 741, 11, '\u22126.15', '#aaa48e', '#333333')

# right tags
tag(1186, 1226, 267.5, 11, 'BTCUSDT', RED)
tag(1226, 1270, 270.5, 19, '69,153.29\n14:00', RED)
tag(1226, 1270, 286.5, 11, '69,050.83', '#000000')
tag(1226, 1250, 620, 11, '5.70', RED)
tag(1226, 1250, 681, 10, '2.09', BLUE)
tag(1226, 1250, 691, 10, '0.85', ORANGE, '#333333')
tag(1226, 1250, 701, 10, '0.85', ORANGE, '#333333')
tag(1226, 1254, 741, 10.5, '\u22121.52', BLUE)
tag(1226, 1254, 751, 10.5, '\u22122.04', BLUE)

# moon badges
for x, y in [(405, 356), (405, 788)]:
    ov.add_patch(Circle((x, y), 2.6, fc='#1a9a70', ec='none'))
    ov.add_patch(Circle((x - 1.4, y - 1.2), 2.2, fc=PANEL, ec='none'))
    ov.add_patch(Circle((x - 6, y), 1.1, fc='#a8dcc8', ec='none'))

# hand-drawn strokes, pixel positions
ink_strokes = [
    [(617, 139), (611, 155), (608, 170), (621, 174), (637, 176), (649, 173)],
    [(658, 137), (658, 165), (664, 171), (677, 162), (691, 145)],
    [(688, 174), (701, 162), (717, 134)],
    [(722, 138), (725, 153), (728, 179), (741, 172), (763, 144)],
    [(646, 249), (637, 271)],
    [(617, 271), (597, 269), (577, 272), (576, 277), (587, 283), (607, 284), (624, 287)],
    [(627, 299), (601, 299), (586, 300), (581, 305), (589, 310), (607, 311), (631, 310)],
    [(609, 323), (629, 325), (629, 332), (621, 337), (607, 341), (621, 337), (636, 336), (644, 342), (651, 351)],
    [(317, 212), (333, 211), (341, 217), (338, 225), (325, 232), (312, 229), (308, 222), (315, 213), (328, 211)],
    [(300, 288), (310, 267), (318, 242), (302, 247), (318, 241), (325, 248), (335, 249)],
]
for stroke in ink_strokes:
    pts = smooth_stroke(stroke)
    ov.plot(pts[:, 0], pts[:, 1], color=INK, lw=1.9, solid_capstyle='round', solid_joinstyle='round', zorder=2)
ov.plot([670], [267], marker='o', ms=1.5, color=INK, zorder=2)

fig.savefig('out.png', dpi=100, facecolor=BG)
